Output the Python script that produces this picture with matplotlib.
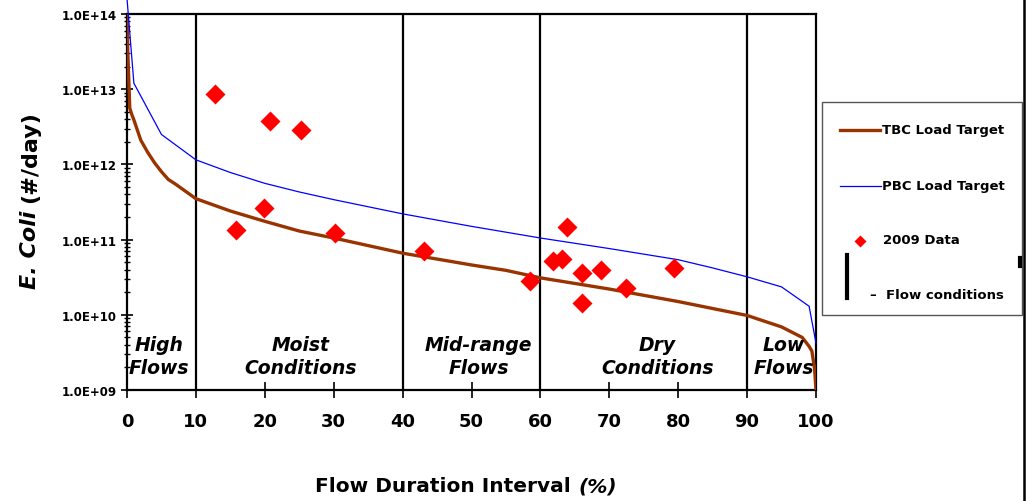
import matplotlib
matplotlib.use("Agg")
import matplotlib.pyplot as plt
from matplotlib.ticker import LogLocator, FuncFormatter, NullFormatter
import numpy as np

# --- datos ---
tbc_x = [0, 0.1, 0.4, 0.7, 1, 2, 3, 4, 5, 6, 7, 10, 15, 20, 25, 30, 40, 50, 55, 60, 70, 80, 90, 95,
         98, 99, 99.4, 99.8, 100]
tbc_y = [1.0e14, 3.4e13, 5.6e12, 4.6e12, 3.9e12, 2.1e12, 1.45e12, 1.05e12, 8.0e11, 6.3e11, 5.5e11,
         3.5e11, 2.4e11, 1.75e11, 1.3e11, 1.05e11, 6.6e10, 4.6e10, 3.9e10, 3.1e10, 2.2e10,
         1.5e10, 9.8e9, 6.9e9, 5.0e9, 3.8e9, 3.3e9, 1.9e9, 1.0e9]

pbc_x = [0, 1, 5, 10, 15, 20, 25, 30, 40, 50, 60, 70, 80, 85, 90, 95, 99, 100]
pbc_y = [1.6e14, 1.2e13, 2.5e12, 1.15e12, 7.8e11, 5.6e11, 4.3e11, 3.4e11, 2.2e11, 1.5e11,
         1.05e11, 7.6e10, 5.4e10, 4.2e10, 3.2e10, 2.35e10, 1.3e10, 4.2e9]

datos_x = [12.8, 15.8, 19.9, 20.8, 25.3, 30.2, 43.1, 58.5, 63.9, 61.8, 63.1, 66.0, 68.8, 66.0,
           72.4, 79.4]
datos_y = [8.7e12, 1.35e11, 2.6e11, 3.8e12, 2.9e12, 1.23e11, 7.0e10, 2.8e10, 1.48e11, 5.2e10,
           5.5e10, 3.6e10, 4.0e10, 1.44e10, 2.27e10, 4.2e10]

limites_flujo = [10, 40, 60, 90]
etiquetas_flujo = ["High\nFlows", "Moist\nConditions", "Mid-range\nFlows", "Dry\nConditions",
                   "Low\nFlows"]
centros_flujo = [4.6, 25.2, 51.0, 77.0, 95.3]

x_ticks = list(range(0, 101, 10))
y_ticks = [1e9, 1e10, 1e11, 1e12, 1e13, 1e14]

W, H = 1028, 502
fig = plt.figure(figsize=(W / 100, H / 100), dpi=100)
ax = fig.add_axes([127 / W, 1 - 391 / H, (816 - 127) / W, (391 - 15) / H])

ax.set_yscale("log")
ax.set_xlim(0, 100)
ax.set_ylim(1e9, 1e14)

# lineas de condiciones de flujo
for xv in limites_flujo:
    ax.axvline(xv, color="black", lw=1.6, zorder=1)

ax.plot(tbc_x, tbc_y, color="#993300", lw=2.4, zorder=3)
ax.plot(pbc_x, pbc_y, color="#0000FF", lw=0.9, zorder=3, clip_on=False)
ax.plot(datos_x, datos_y, "D", color="#FF0000", markersize=10.5, mec="none", zorder=4)

for cx, txt in zip(centros_flujo, etiquetas_flujo):
    ax.text(cx, 10 ** 9.45, txt, ha="center", va="center", fontsize=13.5, fontweight="bold",
            fontstyle="oblique", linespacing=1.3, zorder=5)

for s in ax.spines.values():
    s.set_linewidth(1.6)

ax.set_xticks(x_ticks)
ax.set_xticklabels([str(v) for v in x_ticks], fontsize=13, fontweight="bold")
ax.tick_params(axis="x", direction="inout", length=12, width=1.2, pad=10)

ax.yaxis.set_major_locator(LogLocator(base=10, numticks=10))
ax.yaxis.set_minor_locator(LogLocator(base=10, subs=np.arange(2, 10), numticks=10))
ax.yaxis.set_minor_formatter(NullFormatter())
ax.set_yticks(y_ticks)
ax.yaxis.set_major_formatter(FuncFormatter(lambda v, p: "1.0E+%02d" % round(np.log10(v))))
ax.tick_params(axis="y", which="major", direction="inout", length=9, width=1.2, labelsize=8.5,
               pad=3)
ax.tick_params(axis="y", which="minor", direction="inout", length=5, width=1.0)
for lab in ax.get_yticklabels():
    lab.set_fontweight("bold")

fig.text(578 / W, 1 - 487 / H, "Flow Duration Interval ", ha="right", va="center",
         fontsize=14.5, fontweight="bold")
fig.text(578 / W, 1 - 487 / H, "(%)", ha="left", va="center", fontsize=14.5, fontweight="bold",
         fontstyle="oblique")
fig.text(30 / W, 1 - 203 / H, "E. Coli ", rotation=90, ha="center", va="top", fontsize=16,
         fontweight="bold", fontstyle="oblique")
fig.text(30 / W, 1 - 203 / H, "(#/day)", rotation=90, ha="center", va="bottom", fontsize=16,
         fontweight="bold")

# leyenda dibujada a mano en coordenadas de pixel
lg = fig.add_axes([0, 0, 1, 1], facecolor="none")
lg.set_xlim(0, W)
lg.set_ylim(H, 0)
lg.axis("off")
lg.add_patch(plt.Rectangle((822, 103), 200, 213, fill=False, ec="#555555", lw=1.0))
lg.plot([840, 880], [131, 131], color="#993300", lw=2.4)
lg.text(882, 131, "TBC Load Target", va="center", fontsize=9.5, fontweight="bold")
lg.plot([840, 881], [187, 187], color="#0000FF", lw=0.9)
lg.text(882, 187, "PBC Load Target", va="center", fontsize=9.5, fontweight="bold")
lg.plot([860], [242], "D", color="#FF0000", markersize=6.5, mec="none")
lg.text(883, 241, "2009 Data", va="center", fontsize=9.5, fontweight="bold")
lg.plot([847, 847], [256, 299], color="black", lw=3)
lg.text(870, 296, "\u2013  Flow conditions", va="center", fontsize=9.5, fontweight="bold")
lg.plot([1020, 1020], [259, 267], color="black", lw=3)
lg.plot([1024, 1024], [0, H], color="black", lw=1.8)

fig.savefig("out.png", dpi=100)
